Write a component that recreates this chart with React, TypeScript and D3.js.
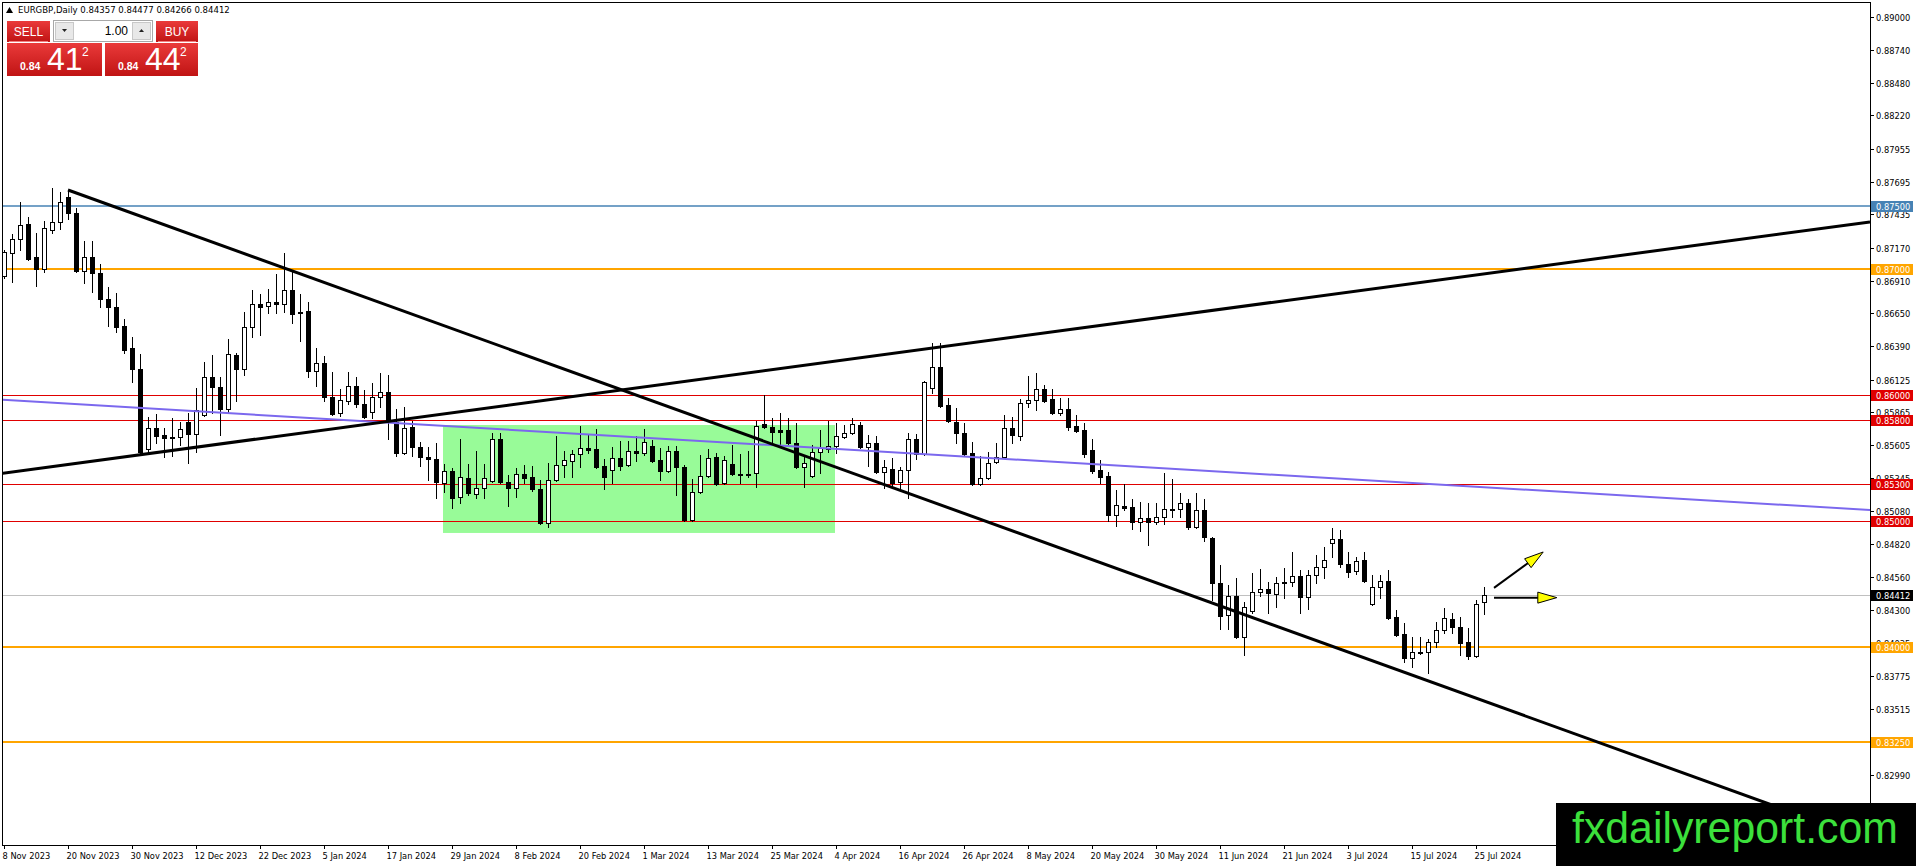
import React from 'react';
import * as d3 from 'd3';

// ---------- DATA ----------
const symbolTitle = 'EURGBP,Daily';
const lastQuote = [0.84357, 0.84477, 0.84266, 0.84412];
const bidText = { big: '41', small: '0.84', pip: '2' };
const askText = { big: '44', small: '0.84', pip: '2' };
const lotSize = '1.00';

// daily candles [open, high, low, close], first bar = 8 Nov 2023
const candles: [number, number, number, number][] = [
  [0.86946, 0.87152, 0.86930, 0.87136], [0.87128, 0.87279, 0.86898, 0.87239], [0.87239, 0.87533, 0.87152, 0.87350],
  [0.87358, 0.87414, 0.87075, 0.87081], [0.87097, 0.87287, 0.86867, 0.87001], [0.87001, 0.87382, 0.86978, 0.87327],
  [0.87311, 0.87644, 0.87287, 0.87374], [0.87374, 0.87612, 0.87319, 0.87533], [0.87572, 0.87628, 0.87398, 0.87446],
  [0.87446, 0.87485, 0.86980, 0.86986], [0.86986, 0.87223, 0.86890, 0.87097], [0.87097, 0.87223, 0.86819, 0.86970],
  [0.86970, 0.87041, 0.86700, 0.86763], [0.86763, 0.86859, 0.86549, 0.86700], [0.86700, 0.86811, 0.86502, 0.86541],
  [0.86549, 0.86605, 0.86335, 0.86359], [0.86375, 0.86462, 0.86105, 0.86208], [0.86208, 0.86327, 0.85542, 0.85550],
  [0.85574, 0.85828, 0.85550, 0.85741], [0.85741, 0.85852, 0.85622, 0.85677], [0.85685, 0.85741, 0.85511, 0.85661],
  [0.85669, 0.85820, 0.85519, 0.85661], [0.85669, 0.85788, 0.85606, 0.85733], [0.85788, 0.85860, 0.85463, 0.85693],
  [0.85693, 0.86058, 0.85550, 0.85883], [0.85844, 0.86264, 0.85836, 0.86145], [0.86145, 0.86319, 0.85860, 0.86066],
  [0.86066, 0.86145, 0.85685, 0.85891], [0.85891, 0.86446, 0.85860, 0.86327], [0.86319, 0.86335, 0.85955, 0.86208],
  [0.86208, 0.86660, 0.86161, 0.86541], [0.86541, 0.86835, 0.86462, 0.86724], [0.86724, 0.86803, 0.86478, 0.86700],
  [0.86708, 0.86843, 0.86652, 0.86740], [0.86740, 0.86962, 0.86652, 0.86724], [0.86724, 0.87128, 0.86660, 0.86835],
  [0.86835, 0.86978, 0.86573, 0.86644], [0.86660, 0.86803, 0.86430, 0.86652], [0.86668, 0.86740, 0.86145, 0.86192],
  [0.86192, 0.86375, 0.86074, 0.86256], [0.86256, 0.86311, 0.85955, 0.85986], [0.85986, 0.86184, 0.85844, 0.85852],
  [0.85860, 0.86050, 0.85836, 0.85963], [0.85955, 0.86184, 0.85931, 0.86074], [0.86074, 0.86145, 0.85907, 0.85931],
  [0.85931, 0.86042, 0.85820, 0.85828], [0.85868, 0.86097, 0.85820, 0.85986], [0.85986, 0.86177, 0.85907, 0.86026],
  [0.86026, 0.86161, 0.85653, 0.85788], [0.85788, 0.85891, 0.85519, 0.85542], [0.85542, 0.85907, 0.85535, 0.85741],
  [0.85749, 0.85796, 0.85519, 0.85590], [0.85590, 0.85630, 0.85439, 0.85511], [0.85511, 0.85590, 0.85328, 0.85495],
  [0.85495, 0.85622, 0.85185, 0.85312], [0.85304, 0.85455, 0.85233, 0.85400], [0.85400, 0.85424, 0.85106, 0.85185],
  [0.85193, 0.85653, 0.85146, 0.85352], [0.85344, 0.85455, 0.85209, 0.85225], [0.85217, 0.85558, 0.85185, 0.85265],
  [0.85265, 0.85455, 0.85185, 0.85344], [0.85320, 0.85701, 0.85312, 0.85653], [0.85653, 0.85701, 0.85304, 0.85312],
  [0.85312, 0.85368, 0.85122, 0.85265], [0.85265, 0.85424, 0.85193, 0.85376], [0.85376, 0.85447, 0.85304, 0.85344],
  [0.85352, 0.85439, 0.85241, 0.85257], [0.85257, 0.85328, 0.84979, 0.84987], [0.84987, 0.85463, 0.84955, 0.85328],
  [0.85328, 0.85677, 0.85320, 0.85447], [0.85447, 0.85558, 0.85352, 0.85487], [0.85479, 0.85566, 0.85352, 0.85534],
  [0.85534, 0.85757, 0.85431, 0.85582], [0.85582, 0.85693, 0.85542, 0.85566], [0.85574, 0.85733, 0.85425, 0.85431],
  [0.85439, 0.85495, 0.85257, 0.85352], [0.85408, 0.85590, 0.85304, 0.85503], [0.85503, 0.85638, 0.85408, 0.85439],
  [0.85447, 0.85638, 0.85439, 0.85558], [0.85558, 0.85677, 0.85479, 0.85542], [0.85542, 0.85733, 0.85526, 0.85630],
  [0.85598, 0.85645, 0.85471, 0.85479], [0.85487, 0.85582, 0.85328, 0.85400], [0.85400, 0.85598, 0.85392, 0.85558],
  [0.85558, 0.85598, 0.85209, 0.85431], [0.85431, 0.85447, 0.85003, 0.85011], [0.85011, 0.85336, 0.85003, 0.85233],
  [0.85233, 0.85526, 0.85225, 0.85360], [0.85360, 0.85574, 0.85352, 0.85503], [0.85511, 0.85542, 0.85288, 0.85296],
  [0.85304, 0.85519, 0.85296, 0.85487], [0.85455, 0.85606, 0.85368, 0.85376], [0.85376, 0.85534, 0.85304, 0.85368],
  [0.85368, 0.85558, 0.85352, 0.85376], [0.85384, 0.85796, 0.85273, 0.85757], [0.85772, 0.86003, 0.85741, 0.85749],
  [0.85749, 0.85820, 0.85630, 0.85709], [0.85725, 0.85860, 0.85590, 0.85709], [0.85725, 0.85820, 0.85614, 0.85622],
  [0.85622, 0.85780, 0.85425, 0.85431], [0.85431, 0.85526, 0.85273, 0.85463], [0.85360, 0.85606, 0.85352, 0.85550],
  [0.85550, 0.85725, 0.85384, 0.85582], [0.85574, 0.85796, 0.85550, 0.85598], [0.85598, 0.85780, 0.85542, 0.85677],
  [0.85669, 0.85764, 0.85661, 0.85701], [0.85701, 0.85820, 0.85693, 0.85772], [0.85764, 0.85788, 0.85582, 0.85590],
  [0.85590, 0.85685, 0.85439, 0.85622], [0.85622, 0.85677, 0.85384, 0.85392], [0.85392, 0.85487, 0.85265, 0.85431],
  [0.85416, 0.85503, 0.85273, 0.85304], [0.85312, 0.85431, 0.85249, 0.85408], [0.85408, 0.85701, 0.85185, 0.85653],
  [0.85653, 0.85693, 0.85495, 0.85534], [0.85534, 0.86113, 0.85526, 0.86105], [0.86058, 0.86415, 0.86018, 0.86224],
  [0.86224, 0.86415, 0.85907, 0.85915], [0.85923, 0.85979, 0.85788, 0.85796], [0.85788, 0.85899, 0.85622, 0.85701],
  [0.85701, 0.85780, 0.85526, 0.85534], [0.85542, 0.85630, 0.85288, 0.85296], [0.85296, 0.85519, 0.85288, 0.85344],
  [0.85344, 0.85550, 0.85336, 0.85463], [0.85471, 0.85622, 0.85463, 0.85511], [0.85511, 0.85844, 0.85503, 0.85741],
  [0.85741, 0.85828, 0.85622, 0.85685], [0.85677, 0.85971, 0.85645, 0.85939], [0.85939, 0.86153, 0.85907, 0.85963],
  [0.85963, 0.86177, 0.85883, 0.86050], [0.86050, 0.86082, 0.85947, 0.85955], [0.85971, 0.86050, 0.85852, 0.85860],
  [0.85860, 0.85979, 0.85844, 0.85891], [0.85891, 0.85979, 0.85725, 0.85749], [0.85757, 0.85844, 0.85709, 0.85717],
  [0.85725, 0.85780, 0.85511, 0.85534], [0.85566, 0.85653, 0.85384, 0.85400], [0.85408, 0.85487, 0.85304, 0.85352],
  [0.85360, 0.85392, 0.85003, 0.85051], [0.85051, 0.85249, 0.84963, 0.85130], [0.85122, 0.85296, 0.85090, 0.85106],
  [0.85114, 0.85177, 0.84939, 0.84995], [0.84995, 0.85154, 0.84924, 0.85027], [0.85027, 0.85146, 0.84813, 0.84995],
  [0.84995, 0.85146, 0.84979, 0.85035], [0.85035, 0.85384, 0.84979, 0.85098], [0.85090, 0.85336, 0.85035, 0.85098],
  [0.85098, 0.85225, 0.85035, 0.85146], [0.85146, 0.85177, 0.84939, 0.84955], [0.84955, 0.85225, 0.84947, 0.85090],
  [0.85090, 0.85177, 0.84844, 0.84876], [0.84868, 0.84875, 0.84377, 0.84511], [0.84511, 0.84654, 0.84146, 0.84249],
  [0.84257, 0.84495, 0.84146, 0.84408], [0.84408, 0.84551, 0.84075, 0.84083], [0.84083, 0.84360, 0.83940, 0.84321],
  [0.84289, 0.84590, 0.84273, 0.84440], [0.84440, 0.84622, 0.84408, 0.84463], [0.84463, 0.84519, 0.84273, 0.84432],
  [0.84424, 0.84559, 0.84321, 0.84511], [0.84511, 0.84630, 0.84392, 0.84519], [0.84519, 0.84757, 0.84487, 0.84567],
  [0.84567, 0.84614, 0.84273, 0.84400], [0.84400, 0.84614, 0.84305, 0.84575], [0.84575, 0.84733, 0.84511, 0.84638],
  [0.84638, 0.84797, 0.84551, 0.84694], [0.84829, 0.84948, 0.84718, 0.84860], [0.84860, 0.84932, 0.84638, 0.84662],
  [0.84662, 0.84757, 0.84559, 0.84598], [0.84606, 0.84718, 0.84582, 0.84686], [0.84694, 0.84757, 0.84519, 0.84527],
  [0.84345, 0.84575, 0.84337, 0.84479], [0.84479, 0.84575, 0.84392, 0.84527], [0.84527, 0.84614, 0.84225, 0.84233],
  [0.84241, 0.84297, 0.84091, 0.84099], [0.84107, 0.84194, 0.83885, 0.83917], [0.83917, 0.84083, 0.83845, 0.83964],
  [0.83964, 0.84083, 0.83950, 0.83956], [0.83964, 0.84067, 0.83798, 0.84044], [0.84044, 0.84202, 0.84004, 0.84139],
  [0.84139, 0.84313, 0.84115, 0.84233], [0.84225, 0.84273, 0.84115, 0.84162], [0.84162, 0.84241, 0.83940, 0.84036],
  [0.84044, 0.84154, 0.83909, 0.83933], [0.83933, 0.84377, 0.83925, 0.84345], [0.84357, 0.84477, 0.84266, 0.84412],
];

const dateLabels = [
  '8 Nov 2023', '20 Nov 2023', '30 Nov 2023', '12 Dec 2023', '22 Dec 2023', '5 Jan 2024',
  '17 Jan 2024', '29 Jan 2024', '8 Feb 2024', '20 Feb 2024', '1 Mar 2024', '13 Mar 2024',
  '25 Mar 2024', '4 Apr 2024', '16 Apr 2024', '26 Apr 2024', '8 May 2024', '20 May 2024',
  '30 May 2024', '11 Jun 2024', '21 Jun 2024', '3 Jul 2024', '15 Jul 2024', '25 Jul 2024',
];
const dateLabelBars = [0, 8, 16, 24, 32, 40, 48, 56, 64, 72, 80, 88, 96, 104, 112, 120, 128, 136, 144, 152, 160, 168, 176, 184];

const priceTicks = [
  0.89, 0.8874, 0.8848, 0.8822, 0.87955, 0.87695, 0.87435, 0.8717, 0.8691, 0.8665, 0.8639, 0.86125,
  0.85865, 0.85605, 0.85345, 0.8508, 0.8482, 0.8456, 0.843, 0.84035, 0.83775, 0.83515, 0.83255, 0.8299,
];

const levelPrices = [0.875, 0.87, 0.86, 0.858, 0.853, 0.85, 0.84, 0.8325];
const levelKinds = ['blue', 'orange', 'red', 'red', 'red', 'red', 'orange', 'orange'];

// trend lines: [bar1, price1, bar2, price2]
const fallingLine = [8, 0.87628, 158, 0.84193];
const risingLine = [0, 0.85383, 185, 0.86963];
const slateLine = [0, 0.85963, 185, 0.85271];

// consolidation box: [bar1, price1, bar2, price2]
const boxZone = [55, 0.85764, 104, 0.84908];

// arrows: [barFrom, priceFrom, barTo, priceTo]
const upArrow = [186.25, 0.84472, 192.4, 0.84757];
const sideArrow = [186.25, 0.84395, 194.1, 0.84395];

// ---------- STYLE ----------
const kindColor: Record<string, string> = { blue: '#4682B4', orange: '#FFA500', red: '#E00000' };
const kindWidth: Record<string, number> = { blue: 1.5, orange: 2, red: 1 };
const FONT = '"DejaVu Sans Condensed", "Liberation Sans", Arial, sans-serif';

export default function App() {
  const W = 1916;
  const H = 866;
  const plotR = 1870;
  const plotB = 845;
  const x = d3.scaleLinear().domain([-0.5, 233.25]).range([0, plotR]);
  const y = d3.scaleLinear().domain([0.89, 0.8325]).range([17, 742]);

  const lineAt = (l: number[], i: number) => l[1] + ((l[3] - l[1]) * (i - l[0])) / (l[2] - l[0]);
  const iMin = x.invert(2);
  const iMax = x.invert(plotR);

  const arrow = (a: number[]) => {
    const x1 = x(a[0]), y1 = y(a[1]), x2 = x(a[2]), y2 = y(a[3]);
    const dx = x2 - x1, dy = y2 - y1;
    const len = Math.hypot(dx, dy);
    const ux = dx / len, uy = dy / len;
    const L = 19, hw = 5.5;
    const bx = x2 - ux * L, by = y2 - uy * L;
    const pts = [
      [x2, y2],
      [bx - uy * hw, by + ux * hw],
      [bx + uy * hw, by - ux * hw],
    ];
    return (
      <g>
        <line x1={x1} y1={y1} x2={bx + ux * 2} y2={by + uy * 2} stroke="#000" strokeWidth={2} />
        <polygon points={pts.map((p) => p.join(',')).join(' ')} fill="#FFFF00" stroke="#000" strokeWidth={1} />
      </g>
    );
  };

  const trend = (l: number[], from: number, color: string, width: number) => (
    <line x1={x(from)} y1={y(lineAt(l, from))} x2={x(iMax)} y2={y(lineAt(l, iMax))} stroke={color} strokeWidth={width} />
  );

  return (
    <svg width={W} height={H} style={{ position: 'absolute', left: 0, top: 0, background: '#fff' }} fontFamily={FONT}>
      <defs>
        <clipPath id="plot">
          <rect x={3} y={3} width={plotR - 3} height={plotB - 3} />
        </clipPath>
        <linearGradient id="redG" x1="0" y1="0" x2="0" y2="1">
          <stop offset="0" stopColor="#ea3a3a" />
          <stop offset="1" stopColor="#c01414" />
        </linearGradient>
      </defs>
      <rect x={0} y={0} width={W} height={H} fill="#fff" />

      <g clipPath="url(#plot)">
        {/* consolidation box */}
        <rect
          x={x(boxZone[0]) - 1}
          y={y(boxZone[1])}
          width={x(boxZone[2]) - x(boxZone[0])}
          height={y(boxZone[3]) - y(boxZone[1])}
          fill="#98FB98"
        />
        {/* bid line */}
        <line x1={2} x2={plotR} y1={Math.round(y(lastQuote[3])) + 0.5} y2={Math.round(y(lastQuote[3])) + 0.5} stroke="#C0C0C0" strokeWidth={1} />
        {/* horizontal levels */}
        {levelPrices.map((p, k) => {
          const w = kindWidth[levelKinds[k]];
          const yy = w === 1 ? Math.round(y(p)) + 0.5 : Math.round(y(p));
          return <line key={k} x1={2} x2={plotR} y1={yy} y2={yy} stroke={kindColor[levelKinds[k]]} strokeWidth={w} />;
        })}
        {/* candles */}
        {candles.map((c, i) => {
          const cx = Math.round(x(i));
          const [o, h, l, cl] = c;
          const yo = Math.round(y(o)), yc = Math.round(y(cl));
          const yh = Math.round(y(h)), yl = Math.round(y(l));
          const bull = cl >= o;
          const top = Math.min(yo, yc), bot = Math.max(yo, yc);
          return (
            <g key={i}>
              <line x1={cx + 0.5} x2={cx + 0.5} y1={yh} y2={yl + 1} stroke="#000" strokeWidth={1} />
              {bot - top < 1 ? (
                <line x1={cx - 2} x2={cx + 3} y1={top + 0.5} y2={top + 0.5} stroke="#000" strokeWidth={1} />
              ) : (
                <rect x={cx - 1.5} y={top + 0.5} width={4} height={bot - top} fill={bull ? '#fff' : '#000'} stroke="#000" strokeWidth={1} />
              )}
            </g>
          );
        })}
        {/* trend lines */}
        {trend(slateLine, iMin, '#7B68EE', 2)}
        {trend(risingLine, iMin, '#000', 3)}
        {trend(fallingLine, fallingLine[0], '#000', 3)}
        {/* arrows */}
        {arrow(upArrow)}
        {arrow(sideArrow)}
      </g>

      {/* frame */}
      <rect x={2.5} y={2.5} width={plotR - 2} height={plotB - 2} fill="none" stroke="#000" strokeWidth={1} />

      {/* price axis */}
      {priceTicks.map((p, k) => {
        const yy = Math.round(y(p)) + 0.5;
        return (
          <g key={k}>
            <line x1={plotR} x2={plotR + 4} y1={yy} y2={yy} stroke="#000" />
            <text x={plotR + 6} y={yy + 3.5} fontSize={9.2} fill="#000">
              {p.toFixed(5)}
            </text>
          </g>
        );
      })}
      {levelPrices.map((p, k) => {
        const yy = Math.round(y(p));
        return (
          <g key={k}>
            <rect x={plotR + 1} y={yy - 5} width={42} height={11} fill={kindColor[levelKinds[k]]} />
            <text x={plotR + 6} y={yy + 4} fontSize={9.2} fill="#fff">
              {p.toFixed(5)}
            </text>
          </g>
        );
      })}
      {(() => {
        const yy = Math.round(y(lastQuote[3]));
        return (
          <g>
            <rect x={plotR + 1} y={yy - 5} width={42} height={11} fill="#000" />
            <text x={plotR + 6} y={yy + 4} fontSize={9.2} fill="#fff">
              {lastQuote[3].toFixed(5)}
            </text>
          </g>
        );
      })()}

      {/* time axis */}
      {dateLabels.map((d, k) => {
        const xx = Math.round(x(dateLabelBars[k])) + 0.5;
        return (
          <g key={k}>
            <line x1={xx} x2={xx} y1={plotB} y2={plotB + 4} stroke="#000" />
            <text x={xx - 2} y={859} fontSize={9.2} fill="#000">
              {d}
            </text>
          </g>
        );
      })}

      {/* header */}
      <polygon points="6,13 9.5,7 13,13" fill="#000" />
      <text x={18} y={13} fontSize={9.5} fill="#000">
        {symbolTitle}{'  '}
        {lastQuote.map((v) => v.toFixed(5)).join(' ')}
      </text>

      {/* one-click panel */}
      <rect x={7} y={21} width={43} height={21} fill="url(#redG)" />
      <line x1={9} x2={48} y1={41.5} y2={41.5} stroke="#f08080" />
      <text x={28.5} y={36} fontSize={12} fill="#fff" textAnchor="middle" fontFamily="Liberation Sans, Arial, sans-serif">SELL</text>
      <rect x={156} y={21} width={42} height={21} fill="url(#redG)" />
      <line x1={158} x2={196} y1={41.5} y2={41.5} stroke="#f08080" />
      <text x={177} y={36} fontSize={12} fill="#fff" textAnchor="middle" fontFamily="Liberation Sans, Arial, sans-serif">BUY</text>
      <rect x={53.5} y={20.5} width={99} height={21} fill="#fff" stroke="#a8a8a8" />
      <rect x={55.5} y={22.5} width={18} height={17} fill="#e8e8e8" stroke="#c8c8c8" />
      <rect x={132.5} y={22.5} width={18} height={17} fill="#e8e8e8" stroke="#c8c8c8" />
      <polygon points="62,29 67,29 64.5,32" fill="#222" />
      <polygon points="139,32 144,32 141.5,29" fill="#222" />
      <text x={128} y={35} fontSize={12} fill="#000" textAnchor="end" fontFamily="Liberation Sans, Arial, sans-serif">{lotSize}</text>

      <rect x={7} y={43} width={95} height={33} fill="url(#redG)" />
      <rect x={105} y={43} width={93} height={33} fill="url(#redG)" />
      <g fill="#fff" fontFamily="Liberation Sans, Arial, sans-serif">
        <text x={20} y={70} fontSize={10.5} fontWeight="bold">{bidText.small}</text>
        <text x={47} y={70} fontSize={32}>{bidText.big}</text>
        <text x={82} y={56} fontSize={12}>{bidText.pip}</text>
        <text x={118} y={70} fontSize={10.5} fontWeight="bold">{askText.small}</text>
        <text x={145} y={70} fontSize={32}>{askText.big}</text>
        <text x={180} y={56} fontSize={12}>{askText.pip}</text>
      </g>

      {/* watermark */}
      <rect x={1556} y={803} width={360} height={63} fill="#000" />
      <text x={1572} y={843} fontSize={44} fill="#3CE03C" textLength={326} lengthAdjust="spacingAndGlyphs" fontFamily="Liberation Sans, Arial, sans-serif">
        fxdailyreport.com
      </text>
    </svg>
  );
}
